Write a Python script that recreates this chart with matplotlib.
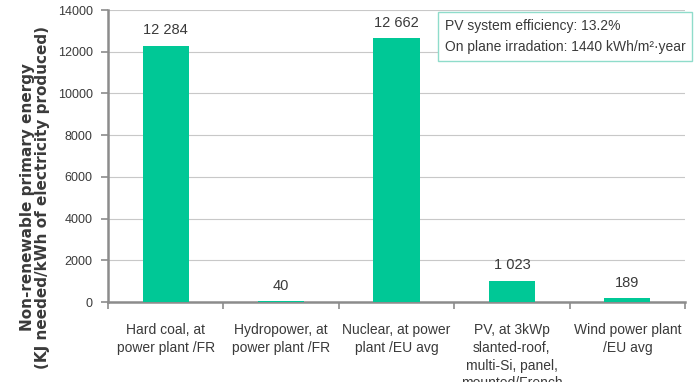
import matplotlib
matplotlib.use("Agg")
import matplotlib.pyplot as plt
import numpy as np

plt.rcParams["font.family"] = ["Liberation Sans", "DejaVu Sans"]

categories = [
    "Hard coal, at\npower plant /FR",
    "Hydropower, at\npower plant /FR",
    "Nuclear, at power\nplant /EU avg",
    "PV, at 3kWp\nslanted-roof,\nmulti-Si, panel,\nmounted/French",
    "Wind power plant\n/EU avg",
]
energy = [12284, 40, 12662, 1023, 189]
value_labels = ["12 284", "40", "12 662", "1 023", "189"]
yticks = [0, 2000, 4000, 6000, 8000, 10000, 12000, 14000]

bar_color = "#00c896"
axis_gray = "#8c8c8c"
text_gray = "#3a3a3a"

fig = plt.figure(figsize=(6.99, 3.82), dpi=100)
ax = fig.add_axes([0.1545, 0.2094, 0.8255, 0.7644])

x = np.arange(len(categories))
ax.bar(x, energy, width=0.4, color=bar_color, zorder=3)

for xi, v, lab in zip(x, energy, value_labels):
    ax.annotate(lab, (xi, v), xytext=(0, 6), textcoords="offset points",
                ha="center", va="bottom", fontsize=10.5, color=text_gray)

ax.set_xlim(-0.5, len(categories) - 0.5)
ax.set_ylim(0, 14000)
ax.set_yticks(yticks)
ax.set_yticklabels([str(t) for t in yticks], fontsize=9, color=text_gray)
ax.yaxis.grid(True, color="#c8c8c8", linewidth=0.8, zorder=0)

ax.set_xticks(x)
ax.set_xticklabels(categories, fontsize=10, color=text_gray, linespacing=1.35, va="top")
ax.set_xticks(np.arange(len(categories) + 1) - 0.5, minor=True)
ax.tick_params(axis="x", which="major", length=0, pad=15)
ax.tick_params(axis="x", which="minor", length=5, width=1.2, color=axis_gray)
ax.tick_params(axis="y", length=5, width=1.2, color=axis_gray, pad=6)

for side in ["top", "right"]:
    ax.spines[side].set_visible(False)
for side in ["left", "bottom"]:
    ax.spines[side].set_color(axis_gray)
    ax.spines[side].set_linewidth(1.8)

fig.text(0.05, 0.484,
         "Non-renewable primary energy\n(KJ needed/kWh of electricity produced)",
         rotation=90, ha="center", va="center", fontsize=11, fontweight="bold",
         family="DejaVu Sans", color=text_gray, linespacing=1.05)

fig.text(0.636, 0.904,
         "PV system efficiency: 13.2%\nOn plane irradation: 1440 kWh/m²·year",
         ha="left", va="center", fontsize=10, color=text_gray, linespacing=1.6,
         bbox=dict(boxstyle="square,pad=0.5", facecolor="white",
                   edgecolor="#8fdccb", linewidth=1.0), zorder=5)

fig.savefig("out.png", dpi=100)
